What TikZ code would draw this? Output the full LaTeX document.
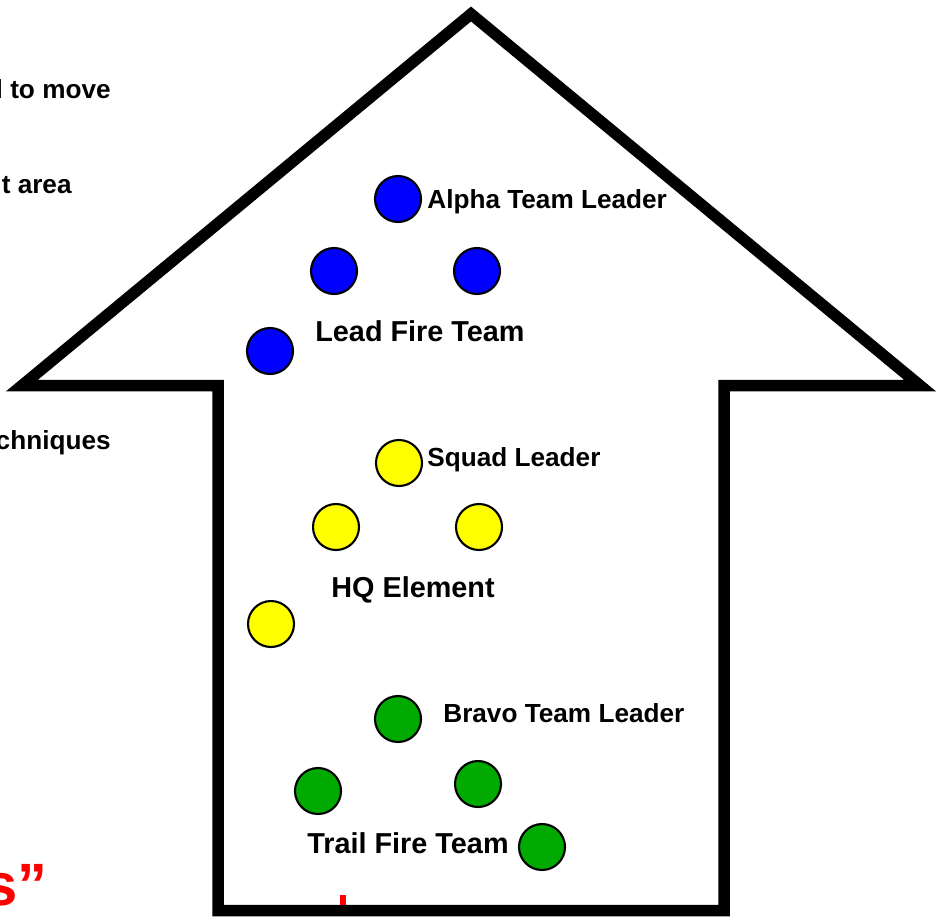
\documentclass[tikz,border=0pt]{standalone}
\usepackage{fontspec}
\setmainfont{Liberation Sans}
\usepackage{xcolor}
\usepackage{tikz}

\definecolor{leadblue}{RGB}{0,0,255}
\definecolor{hqyellow}{RGB}{255,255,0}
\definecolor{trailgreen}{RGB}{0,170,0}
\definecolor{markred}{RGB}{255,0,0}

\begin{document}
\begin{tikzpicture}[x=0.02cm, y=-0.02cm,
    man/.style={circle, draw=black, line width=1.2pt, minimum size=0.92cm, inner sep=0pt},
    tag/.style={anchor=base west, inner sep=0pt, font=\bfseries\fontsize{14.9}{17}\selectfont},
    teamtag/.style={anchor=base west, inner sep=0pt, font=\bfseries\fontsize{16.4}{19}\selectfont},
    cuttag/.style={anchor=base east, inner sep=0pt, font=\bfseries\fontsize{14.9}{17}\selectfont}]
    \useasboundingbox (0,0) rectangle (942,916);

    % text running in from the left edge
    \node (move) [cuttag] at (111,98) {l to move};
    \node (area) [cuttag] at (72,193) {t area};
    \node (tech) [cuttag] at (111,449) {chniques};
    \node (quote) [anchor=base east, inner sep=0pt, text=markred, font=\bfseries\fontsize{34}{40}\selectfont] at (48,905) {s”};

    % the big arrow
    \draw[line width=0.23cm] (218,910.5) -- (218,385.5) -- (22,385.5) -- (471,14)
        -- (920,385.5) -- (724,385.5) -- (724,910.5) -- cycle;
    \fill[markred] (340,895) rectangle (346,905);

    % lead fire team
    \node (alpha) [man, fill=leadblue] at (398,199) {};
    \node (leadl) [man, fill=leadblue] at (334,271) {};
    \node (leadr) [man, fill=leadblue] at (477,271) {};
    \node (leadw) [man, fill=leadblue] at (270,351) {};
    \node (alphatag) [tag] at (427,208) {Alpha Team Leader};
    \node (leadtag) [teamtag] at (315,341) {Lead Fire Team};

    % HQ element
    \node (sl) [man, fill=hqyellow] at (399,463) {};
    \node (hql) [man, fill=hqyellow] at (336,527) {};
    \node (hqr) [man, fill=hqyellow] at (479,527) {};
    \node (hqw) [man, fill=hqyellow] at (271,624) {};
    \node (sltag) [tag] at (427,466) {Squad Leader};
    \node (hqtag) [teamtag] at (331,597) {HQ Element};

    % trail fire team
    \node (bravo) [man, fill=trailgreen] at (398,719) {};
    \node (traill) [man, fill=trailgreen] at (318,791) {};
    \node (trailr) [man, fill=trailgreen] at (478,784) {};
    \node (traile) [man, fill=trailgreen] at (542,847) {};
    \node (bravotag) [tag] at (443,722) {Bravo Team Leader};
    \node (trailtag) [teamtag] at (307,853) {Trail Fire Team};
\end{tikzpicture}
\end{document}
